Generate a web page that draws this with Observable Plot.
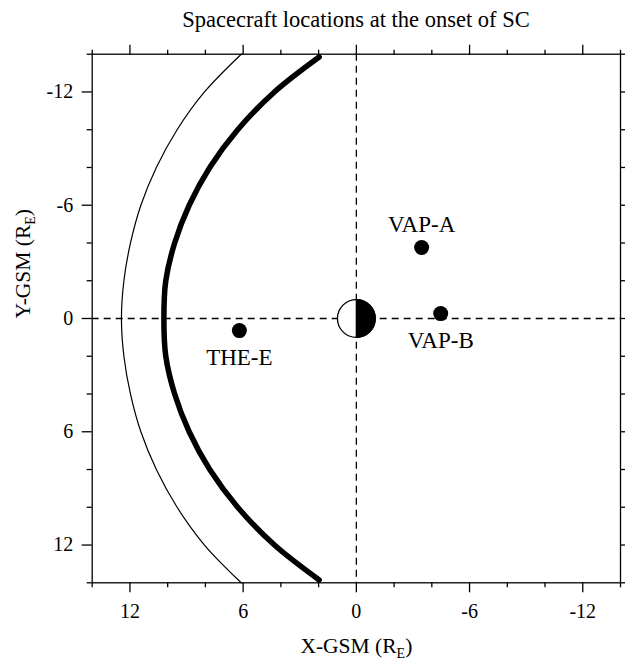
<!DOCTYPE html>
<html><head><meta charset="utf-8">
<script src="https://cdn.jsdelivr.net/npm/d3@7"></script>
<script src="https://cdn.jsdelivr.net/npm/@observablehq/plot@0.6"></script>
<style>
body{margin:0;background:#fff;}
#title{font-family:"Liberation Serif","Times New Roman",serif;font-size:22.5px;height:40px;line-height:40px;width:625px;box-sizing:border-box;padding-left:87px;text-align:center;color:#000;}
</style></head><body>
<div id="title"></div>
<div id="chart"></div>
<script>
const titleText = "Spacecraft locations at the onset of SC";
const xLabel = "X-GSM (R|E)";
const yLabel = "Y-GSM (R|E)";

// axis ticks
const majorTicks = [-12, -6, 0, 6, 12];
const minorTicks = [-14, -10, -8, -4, -2, 2, 4, 8, 10, 14];

// thin boundary
const thinX = [6.1, 8.05, 9.5, 10.6, 11.42, 11.97, 12.32, 12.45, 12.32, 11.97, 11.42, 10.6, 9.5, 8.05, 6.1];
const thinY = [-14, -12, -10, -8, -6, -4, -2, 0, 2, 4, 6, 8, 10, 12, 14];

// thick boundary
const thickX = [1.97, 4.34, 6.29, 7.77, 8.86, 9.63, 10.1, 10.2, 10.1, 9.63, 8.86, 7.77, 6.29, 4.34, 1.97];
const thickY = [-13.85, -12, -10, -8, -6, -4, -2, 0, 2, 4, 6, 8, 10, 12, 13.85];

// spacecraft
const craftNames = ["VAP-A", "VAP-B", "THE-E"];
const craftX = [-3.46, -4.47, 6.2];
const craftY = [-3.76, -0.26, 0.64];
const craftLabelSide = ["above", "below", "below"];

document.getElementById("title").textContent = titleText;

const thin = thinX.map((x, i) => ({x, y: thinY[i]}));
const thick = thickX.map((x, i) => ({x, y: thickY[i]}));
const craft = craftNames.map((name, i) => ({name, x: craftX[i], y: craftY[i], side: craftLabelSide[i]}));
const earth = [{x: 0, y: 0}];

const halfRight = {
  draw(context, size) {
    const r = Math.sqrt(size / Math.PI);
    context.moveTo(0, -r);
    context.arc(0, 0, r, -Math.PI / 2, Math.PI / 2);
    context.closePath();
  }
};

const font = "Liberation Serif";
const fmt = d => String(d);
const none = () => "";

const plot = Plot.plot({
  width: 625,
  height: 620,
  marginLeft: 91.7,
  marginRight: 5,
  marginTop: 13.7,
  marginBottom: 77.7,
  style: {fontFamily: font, fontSize: "20px", color: "black", background: "white"},
  x: {domain: [14, -14]},
  y: {domain: [14, -14]},
  marks: [
    Plot.ruleX([0], {stroke: "black", strokeWidth: 1.3, strokeDasharray: "7,5"}),
    Plot.ruleY([0], {stroke: "black", strokeWidth: 1.3, strokeDasharray: "7,5"}),
    Plot.line(thin, {x: "x", y: "y", curve: "catmull-rom", stroke: "black", strokeWidth: 1.2}),
    Plot.line(thick, {x: "x", y: "y", curve: "catmull-rom", stroke: "black", strokeWidth: 5.5, strokeLinecap: "round"}),
    Plot.dot(earth, {x: "x", y: "y", r: 18.9, fill: "white", stroke: "black", strokeWidth: 1.3}),
    Plot.dot(earth, {x: "x", y: "y", r: 18.9, symbol: halfRight, fill: "black", stroke: "black", strokeWidth: 1.3}),
    Plot.dot(craft, {x: "x", y: "y", r: 7.5, fill: "black", stroke: "none"}),
    Plot.text(craft.filter(d => d.side === "above"), {x: "x", y: "y", text: "name", lineAnchor: "bottom", dy: -16, fontSize: 23, fill: "black"}),
    Plot.text(craft.filter(d => d.side === "below"), {x: "x", y: "y", text: "name", lineAnchor: "bottom", dy: 34, fontSize: 23, fill: "black"}),
    Plot.frame({stroke: "black", strokeWidth: 1.3}),
    Plot.axisX({anchor: "bottom", ticks: majorTicks, tickSize: 10, tickPadding: 11, tickFormat: fmt, label: null, strokeWidth: 1.3, fontSize: 20}),
    Plot.axisX({anchor: "bottom", ticks: minorTicks, tickSize: 5, tickFormat: none, label: null, strokeWidth: 1.3}),
    Plot.axisX({anchor: "top", ticks: majorTicks, tickSize: 10, tickFormat: none, label: null, strokeWidth: 1.3}),
    Plot.axisX({anchor: "top", ticks: minorTicks, tickSize: 5, tickFormat: none, label: null, strokeWidth: 1.3}),
    Plot.axisY({anchor: "left", ticks: majorTicks, tickSize: 10, tickPadding: 9, tickFormat: fmt, label: null, strokeWidth: 1.3, fontSize: 20}),
    Plot.axisY({anchor: "left", ticks: minorTicks, tickSize: 5, tickFormat: none, label: null, strokeWidth: 1.3}),
    Plot.axisY({anchor: "right", ticks: majorTicks, tickSize: 10, tickFormat: none, label: null, strokeWidth: 1.3}),
    Plot.axisY({anchor: "right", ticks: minorTicks, tickSize: 5, tickFormat: none, label: null, strokeWidth: 1.3}),
    Plot.text([xLabel], {frameAnchor: "bottom", lineAnchor: "bottom", dy: 70, text: d => d, fontSize: 21.5, fill: "black"}),
    Plot.text([yLabel], {frameAnchor: "left", lineAnchor: "bottom", dx: -62, rotate: -90, text: d => d, fontSize: 21.5, fill: "black"})
  ]
});

// subscript E in axis labels
d3.select(plot).selectAll("text").each(function() {
  const t = this.textContent;
  if (t === xLabel || t === yLabel) {
    const [a, b] = t.split("|");
    const sel = d3.select(this);
    sel.text(null);
    sel.append("tspan").text(a);
    sel.append("tspan").attr("font-size", 14).attr("dy", 5).text(b[0]);
    sel.append("tspan").attr("dy", -5).text(b.slice(1));
  }
});

document.getElementById("chart").appendChild(plot);
</script>
</body></html>
